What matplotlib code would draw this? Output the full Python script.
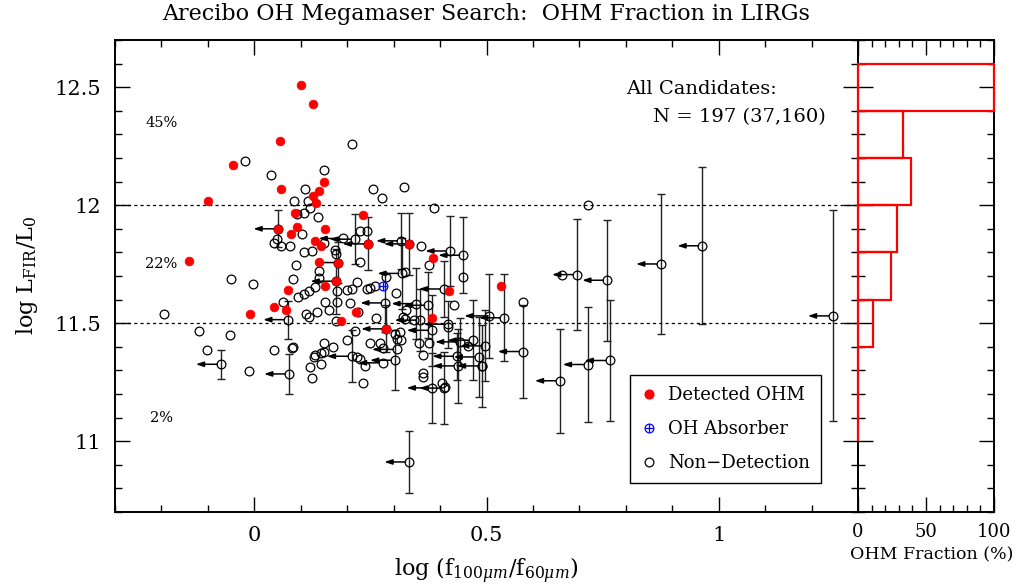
import matplotlib
matplotlib.use('Agg')
import matplotlib.pyplot as plt
from matplotlib.ticker import MultipleLocator, FixedLocator, FixedFormatter
from matplotlib.lines import Line2D

plt.rcParams['font.family'] = 'DejaVu Serif'
plt.rcParams['mathtext.fontset'] = 'dejavuserif'

# Detected OH megamasers
red_x = [0.100, 0.127, 0.056, -0.045, -0.099, 0.057, 0.151, 0.140, 0.126, 0.133,
         0.087, 0.093, 0.080, 0.153, 0.130, 0.143, 0.052, 0.235, 0.244, -0.140,
         0.139, 0.181, 0.175, 0.153, 0.073, 0.043, 0.069, -0.009, 0.218, 0.186,
         0.333, 0.384, 0.420, 0.532, 0.382, 0.284]
red_y = [12.510, 12.429, 12.270, 12.169, 12.017, 12.069, 12.099, 12.059, 12.038, 12.008,
         11.968, 11.909, 11.878, 11.898, 11.849, 11.829, 11.900, 11.960, 11.836, 11.763,
         11.758, 11.757, 11.678, 11.657, 11.639, 11.568, 11.558, 11.537, 11.547, 11.509,
         11.836, 11.778, 11.637, 11.657, 11.524, 11.476]

# OH absorber
abs_x = [0.278]
abs_y = [11.657]

# Non-detections (both fluxes measured)
nd_x = [-0.019, 0.037, 0.210, 0.150, 0.109, 0.255, 0.275, 0.322, 0.387, 0.085,
        0.115, 0.119, 0.108, 0.093, 0.138, 0.719,
        0.103, 0.049, 0.042, 0.057, 0.077, 0.125, 0.108, 0.151, 0.090, 0.140,
        0.139, 0.083, -0.003, 0.174, 0.176, 0.228, 0.242, 0.228, -0.051, 0.359,
        0.377, 0.450, 0.325, 0.305, 0.430, 0.284, 0.199, 0.210, 0.221, 0.242,
        0.250, 0.260, 0.095, 0.106, 0.117, 0.131, 0.177,
        0.061, 0.153, 0.160, 0.135, 0.111, 0.117, 0.178, 0.205, 0.223, 0.175,
        0.262, 0.081, 0.042, -0.012, -0.194, -0.120, -0.052, -0.101, 0.120, 0.124,
        0.144, 0.131, 0.143, 0.150, 0.151, 0.170, 0.199, 0.216, 0.221, 0.228,
        0.239, 0.235, 0.250, 0.271, 0.303, 0.307, 0.327, 0.320, 0.325, 0.418,
        0.314, 0.316, 0.278, 0.354, 0.377, 0.364, 0.461, 0.491, 0.363, 0.364,
        0.404, 0.411, 0.128, 0.579, 0.663, 0.343, 0.084]
nd_y = [12.189, 12.128, 12.260, 12.148, 12.069, 12.069, 12.029, 12.079, 11.989, 12.018,
        12.019, 11.989, 11.967, 11.964, 11.949, 12.000,
        11.880, 11.856, 11.838, 11.826, 11.828, 11.808, 11.800, 11.838, 11.747, 11.720,
        11.693, 11.688, 11.665, 11.809, 11.794, 11.891, 11.890, 11.758, 11.689, 11.828,
        11.746, 11.697, 11.715, 11.628, 11.576, 11.694, 11.640, 11.647, 11.676, 11.647,
        11.651, 11.657, 11.609, 11.623, 11.636, 11.654, 11.636,
        11.589, 11.589, 11.558, 11.547, 11.537, 11.528, 11.588, 11.586, 11.548, 11.510,
        11.520, 11.397, 11.386, 11.297, 11.537, 11.467, 11.448, 11.386, 11.316, 11.266,
        11.326, 11.364, 11.373, 11.379, 11.417, 11.398, 11.427, 11.469, 11.357, 11.347,
        11.318, 11.247, 11.417, 11.417, 11.456, 11.435, 11.555, 11.527, 11.518, 11.482,
        11.463, 11.428, 11.393, 11.414, 11.414, 11.364, 11.403, 11.319, 11.287, 11.273,
        11.247, 11.230, 11.357, 11.588, 11.706, 11.513, 11.401]

# Non-detections with upper limits on the colour (arrow) and error in L_FIR
lim_x = [0.538, 0.578, 0.658, 0.695, 0.760, 0.765, 0.718, 0.876, 0.965, 1.246,
         0.450, 0.422, 0.408, 0.506, 0.470, 0.497, 0.483, 0.490, 0.438, 0.437,
         0.382, 0.334, 0.073, -0.072, 0.075, 0.210, 0.282, 0.303, 0.307, 0.316,
         0.319, 0.356, 0.375, 0.443, 0.192, 0.216, 0.244, 0.181, 0.052, 0.175,
         0.277, 0.333, 0.349, 0.418, 0.284, 0.382, 0.409]
lim_y = [11.523, 11.380, 11.256, 11.706, 11.682, 11.342, 11.325, 11.751, 11.828, 11.531,
         11.788, 11.806, 11.645, 11.531, 11.428, 11.404, 11.357, 11.319, 11.319, 11.360,
         11.226, 10.912, 11.515, 11.326, 11.285, 11.360, 11.586, 11.343, 11.389, 11.849,
         11.711, 11.513, 11.576, 11.421, 11.859, 11.856, 11.836, 11.757, 11.900, 11.678,
         11.332, 11.836, 11.583, 11.496, 11.476, 11.470, 11.225]
lim_err = [0.185, 0.195, 0.221, 0.234, 0.256, 0.256, 0.242, 0.297, 0.332, 0.447,
           0.160, 0.150, 0.120, 0.177, 0.170, 0.150, 0.170, 0.174, 0.157, 0.100,
           0.147, 0.133, 0.081, 0.061, 0.083, 0.111, 0.123, 0.127, 0.0, 0.120,
           0.150, 0.130, 0.140, 0.100, 0.0, 0.106, 0.112, 0.085, 0.078, 0.138,
           0.0, 0.130, 0.150, 0.100, 0.100, 0.150, 0.153]

# OHM fraction histogram
hist_bins = [11.0, 11.2, 11.4, 11.6, 11.8, 12.0, 12.2, 12.4]
hist_frac = [0, 0, 11, 24, 29, 39, 33, 100]

pct_y = [12.35, 11.75, 11.10]
pct_labels = ['45%', '22%', '2%']

x_ticks = [0, 0.5, 1]
x_labels = ['0', '0.5', '1']
y_ticks = [11, 11.5, 12, 12.5]
y_labels = ['11', '11.5', '12', '12.5']
frac_ticks = [0, 50, 100]
frac_labels = ['0', '50', '100']

fig = plt.figure(figsize=(10.16, 5.86), dpi=100)
W, H = 1016.0, 586.0
ax = fig.add_axes([115 / W, 74 / H, 743 / W, 472 / H])
ax2 = fig.add_axes([858 / W, 74 / H, 136 / W, 472 / H])

ms = 6.3
# error bars and arrows for limits
for x, y, e in zip(lim_x, lim_y, lim_err):
    if e > 0:
        ax.errorbar([x], [y], yerr=[e], fmt='none', ecolor='#222222',
                    elinewidth=1.0, capsize=3, capthick=1.0, zorder=2)
    ax.annotate('', xy=(x - 0.054, y), xytext=(x - 0.008, y),
                arrowprops=dict(arrowstyle='-|>,head_length=0.45,head_width=0.15',
                                lw=1.1, color='black', shrinkA=0, shrinkB=0),
                zorder=3)

ax.plot(nd_x + lim_x, nd_y + lim_y, ls='none', marker='o', ms=ms, mfc='none',
        mec='black', mew=0.9, zorder=4)
ax.plot(abs_x, abs_y, ls='none', marker='o', ms=ms, mfc='none', mec='blue', mew=0.9, zorder=5)
ax.plot(abs_x, abs_y, ls='none', marker='+', ms=ms, color='blue', mew=0.9, zorder=5)
ax.plot(red_x, red_y, ls='none', marker='o', ms=ms, mfc='red', mec='red', mew=0.5, zorder=6)

for yv in [12.0, 11.5]:
    ax.axhline(yv, color='black', lw=0.9, ls=(0, (2.5, 2.5)), zorder=1)

for yv, lab in zip(pct_y, pct_labels):
    ax.text(-0.2, yv, lab, ha='center', va='center', fontsize=10.5)

ax.text(0.688, 0.896, 'All Candidates:', transform=ax.transAxes, ha='left',
        va='center', fontsize=14)
ax.text(0.957, 0.837, 'N = 197 (37,160)', transform=ax.transAxes, ha='right',
        va='center', fontsize=14)

h_red = Line2D([], [], ls='none', marker='o', ms=ms, mfc='red', mec='red')
h_abs1 = Line2D([], [], ls='none', marker='o', ms=ms, mfc='none', mec='blue', mew=0.9)
h_abs2 = Line2D([], [], ls='none', marker='+', ms=ms, color='blue', mew=0.9)
h_nd = Line2D([], [], ls='none', marker='o', ms=ms, mfc='none', mec='black', mew=0.9)
leg = ax.legend([h_red, (h_abs1, h_abs2), h_nd],
                ['Detected OHM', 'OH Absorber', 'Non\u2212Detection'],
                loc='upper left', bbox_to_anchor=(0.693, 0.29), borderaxespad=0,
                fontsize=13, frameon=True, fancybox=False, edgecolor='black',
                framealpha=1, handlelength=0.9, handletextpad=0.6,
                labelspacing=0.9, borderpad=0.6)
leg.get_frame().set_linewidth(1.0)

ax.set_xlim(-0.3, 1.3)
ax.set_ylim(10.7, 12.7)
ax.xaxis.set_major_locator(FixedLocator(x_ticks))
ax.xaxis.set_major_formatter(FixedFormatter(x_labels))
ax.xaxis.set_minor_locator(MultipleLocator(0.1))
ax.yaxis.set_major_locator(FixedLocator(y_ticks))
ax.yaxis.set_major_formatter(FixedFormatter(y_labels))
ax.yaxis.set_minor_locator(MultipleLocator(0.1))

# histogram panel
ax2.barh(hist_bins, hist_frac, height=0.2, align='edge', left=0, fill=False,
         edgecolor='red', linewidth=1.6, zorder=5, clip_on=False)
ax2.set_xlim(0, 100)
ax2.set_ylim(10.7, 12.7)
ax2.xaxis.set_major_locator(FixedLocator(frac_ticks))
ax2.xaxis.set_major_formatter(FixedFormatter(frac_labels))
ax2.xaxis.set_minor_locator(MultipleLocator(10))
ax2.yaxis.set_major_locator(MultipleLocator(0.5))
ax2.yaxis.set_minor_locator(MultipleLocator(0.1))
ax2.set_yticklabels([])

for a in (ax, ax2):
    a.tick_params(which='both', direction='in', top=True, right=True)
    a.tick_params(which='major', length=11, width=1.0)
    a.tick_params(which='minor', length=5, width=1.0)
    for s in a.spines.values():
        s.set_linewidth(1.4)
ax.tick_params(which='major', labelsize=15, pad=10)
ax2.tick_params(which='major', labelsize=13, pad=8)

fig.text(486.5 / W, 1 - 14 / H, 'Arecibo OH Megamaser Search:  OHM Fraction in LIRGs',
         ha='center', va='center', fontsize=16)
fig.text(486.5 / W, 1 - 571 / H, r'log (f$_{100\mu m}$/f$_{60\mu m}$)',
         ha='center', va='center', fontsize=16)
fig.text(27 / W, 1 - 275 / H, r'log L$_{\rm FIR}$/L$_0$', ha='center', va='center',
         rotation=90, fontsize=16)
fig.text(932 / W, 1 - 555 / H, 'OHM Fraction (%)', ha='center', va='center', fontsize=12.5)

fig.savefig('out.png', dpi=100)
